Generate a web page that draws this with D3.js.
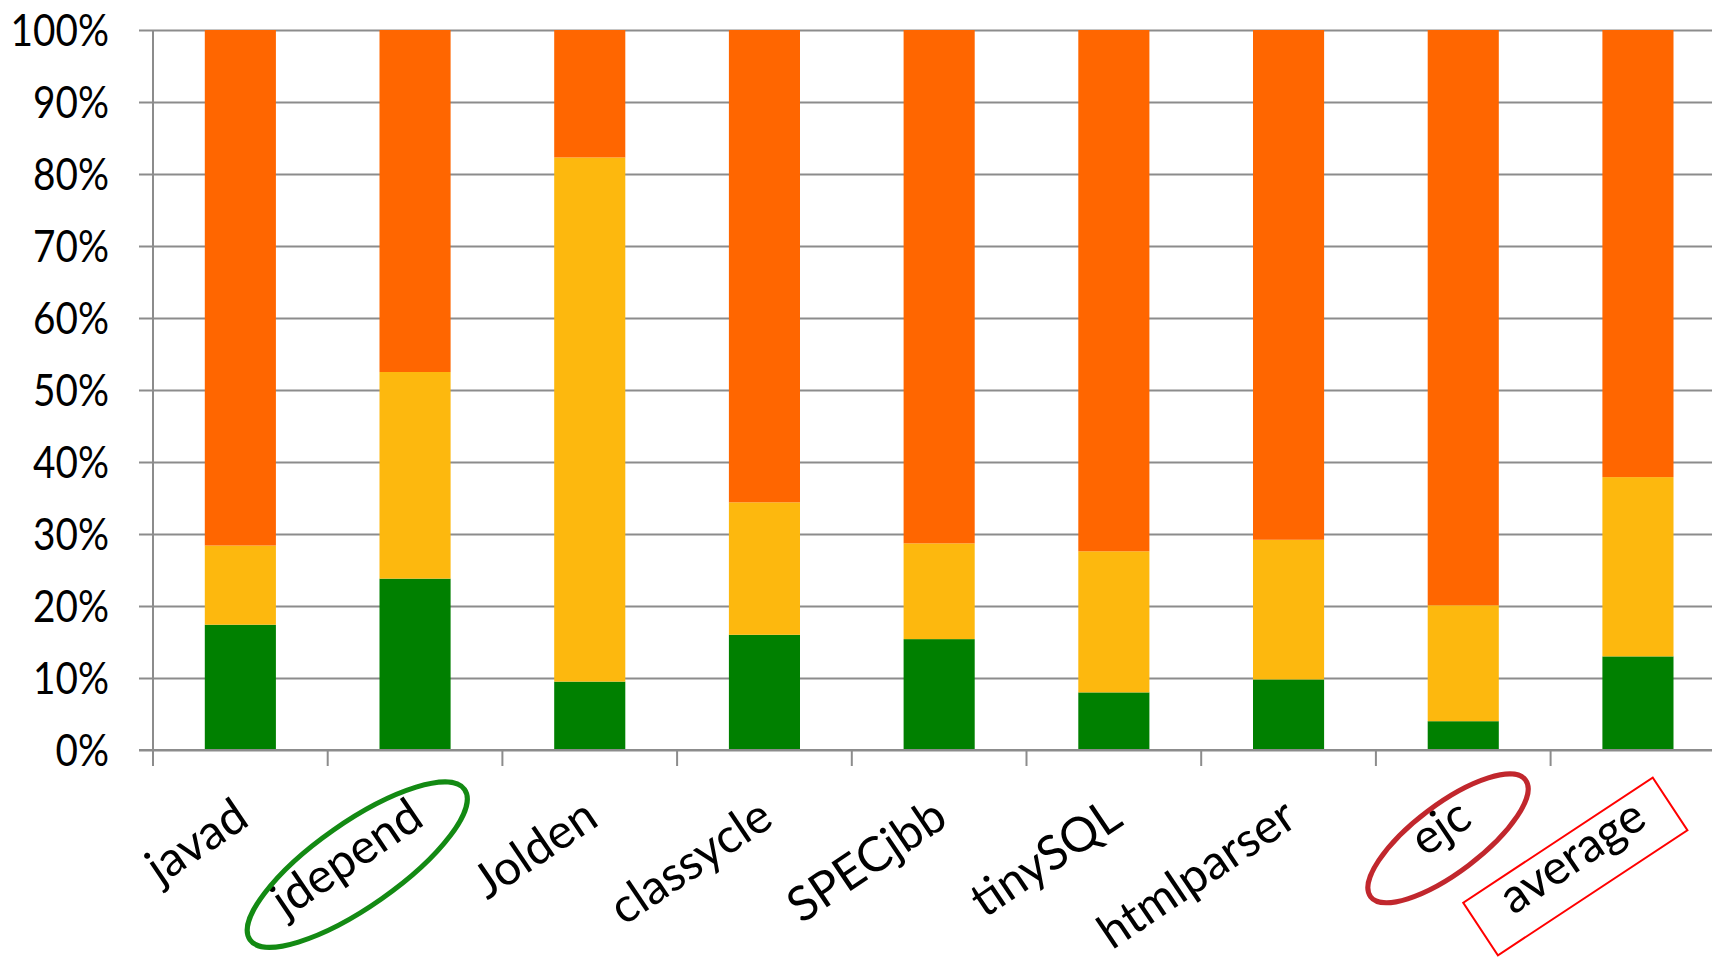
<!DOCTYPE html>
<html>
<head>
<meta charset="utf-8">
<script src="https://cdn.jsdelivr.net/npm/d3@7"></script>
<style>
  html, body { margin: 0; padding: 0; background: #fff; overflow: hidden; }
  svg { display: block; }
  text { font-family: Lato, "Open Sans", sans-serif; fill: #000; }
</style>
</head>
<body>
<svg id="chart" width="1712" height="959"></svg>
<script>
// Benchmarks along the x axis
const categories = ["javad", "jdepend", "Jolden", "classycle", "SPECjbb", "tinySQL", "htmlparser", "ejc", "average"];

// Share of each benchmark (percent), stacked bottom to top
const greenShare  = [17.4, 23.8,  9.5, 16.0, 15.4,  8.0,  9.8,  4.0, 13.0];
const yellowShare = [11.0, 28.7, 72.8, 18.4, 13.3, 19.6, 19.4, 16.1, 24.9];
const orangeShare = [71.6, 47.5, 17.7, 65.6, 71.3, 72.4, 70.8, 79.9, 62.1];

// Y axis tick values
const yTicks = [0, 10, 20, 30, 40, 50, 60, 70, 80, 90, 100];

const seriesKeys = ["green", "yellow", "orange"];
const seriesColors = { green: "#008000", yellow: "#FDB80E", orange: "#FF6600" };

const W = 1712, H = 959;
const plotLeft = 153, plotTop = 30, plotBottom = 750;
const step = 174.7;
const plotRight = plotLeft + step * categories.length;

const svg = d3.select("#chart");

const rows = categories.map((c, i) => ({
  name: c, green: greenShare[i], yellow: yellowShare[i], orange: orangeShare[i]
}));
const stacked = d3.stack().keys(seriesKeys)(rows);

const x = d3.scaleBand()
  .domain(categories)
  .range([plotLeft, plotRight])
  .paddingInner(0.593)
  .paddingOuter(0.2965);

const y = d3.scaleLinear().domain([0, 100]).range([plotBottom, plotTop]);

const gridColor = "#8c8c8c";

// Horizontal gridlines with short ticks to the left of the axis
const yAxis = d3.axisLeft(y)
  .tickValues(yTicks)
  .tickSize(-(W - plotLeft))
  .tickFormat(d => d + "%");
const gy = svg.append("g").attr("transform", `translate(${plotLeft},0)`).call(yAxis);
gy.select(".domain").remove();
gy.selectAll(".tick line")
  .attr("x1", -14)
  .attr("stroke", gridColor)
  .attr("stroke-width", 2);
// narrow the tick labels a little (condensed look)
const squeeze = 0.88;
gy.selectAll(".tick text")
  .attr("x", -44 / squeeze)
  .attr("dy", "0.36em")
  .attr("transform", `scale(${squeeze},1)`)
  .attr("font-size", 44)
  .attr("font-family", "Lato, sans-serif")
  .attr("fill", "#000");

// Stacked bars
svg.append("g")
  .selectAll("g")
  .data(stacked)
  .join("g")
  .attr("fill", d => seriesColors[d.key])
  .selectAll("rect")
  .data(d => d)
  .join("rect")
  .attr("x", d => x(d.data.name))
  .attr("width", x.bandwidth())
  .attr("y", d => y(d[1]))
  .attr("height", d => y(d[0]) - y(d[1]));

// Vertical axis line
svg.append("line")
  .attr("x1", plotLeft).attr("x2", plotLeft)
  .attr("y1", y(100)).attr("y2", plotBottom + 16)
  .attr("stroke", gridColor).attr("stroke-width", 2);

// Baseline and category dividers
svg.append("line")
  .attr("x1", plotLeft - 14).attr("x2", W)
  .attr("y1", plotBottom).attr("y2", plotBottom)
  .attr("stroke", gridColor).attr("stroke-width", 2);
svg.append("g")
  .selectAll("line")
  .data(d3.range(categories.length + 1))
  .join("line")
  .attr("x1", i => plotLeft + i * x.step())
  .attr("x2", i => plotLeft + i * x.step())
  .attr("y1", plotBottom).attr("y2", plotBottom + 16)
  .attr("stroke", gridColor).attr("stroke-width", 2);

// Rotated category labels
const angle = -34;
const labelPos = c => [x(c) + x.bandwidth() / 2 + 11, 824];
svg.append("g")
  .selectAll("text")
  .data(categories)
  .join("text")
  .attr("text-anchor", "end")
  .attr("font-size", 48)
  .attr("transform", c => {
    const [px, py] = labelPos(c);
    return `translate(${px},${py}) rotate(${angle})`;
  })
  .text(c => c);

// Highlight marks around selected labels
const ann = svg.append("g").attr("fill", "none");

function centerOf(c, along, across, dx, dy) {
  // point in the label's rotated frame, offset from its anchor
  const [px, py] = labelPos(c);
  const a = angle * Math.PI / 180;
  return [px + along * Math.cos(a) - across * Math.sin(a) + dx,
          py + along * Math.sin(a) + across * Math.cos(a) + dy];
}

const [jx, jy] = centerOf("jdepend", -88, -14, 12, 3);
ann.append("ellipse")
  .attr("transform", `translate(${jx},${jy}) rotate(-35)`)
  .attr("rx", 131).attr("ry", 42)
  .attr("stroke", "#138a13").attr("stroke-width", 5);

const [ex, ey] = centerOf("ejc", -38, -12, 12, 3);
ann.append("ellipse")
  .attr("transform", `translate(${ex},${ey}) rotate(-37)`)
  .attr("rx", 97).attr("ry", 34)
  .attr("stroke", "#c1272d").attr("stroke-width", 5);

const [ax, ay] = centerOf("average", -80, -12, -1, 8);
ann.append("rect")
  .attr("transform", `translate(${ax},${ay}) rotate(-33.4)`)
  .attr("x", -113).attr("y", -31.5)
  .attr("width", 227).attr("height", 63)
  .attr("stroke", "#ff0000").attr("stroke-width", 2);
</script>
</body>
</html>
